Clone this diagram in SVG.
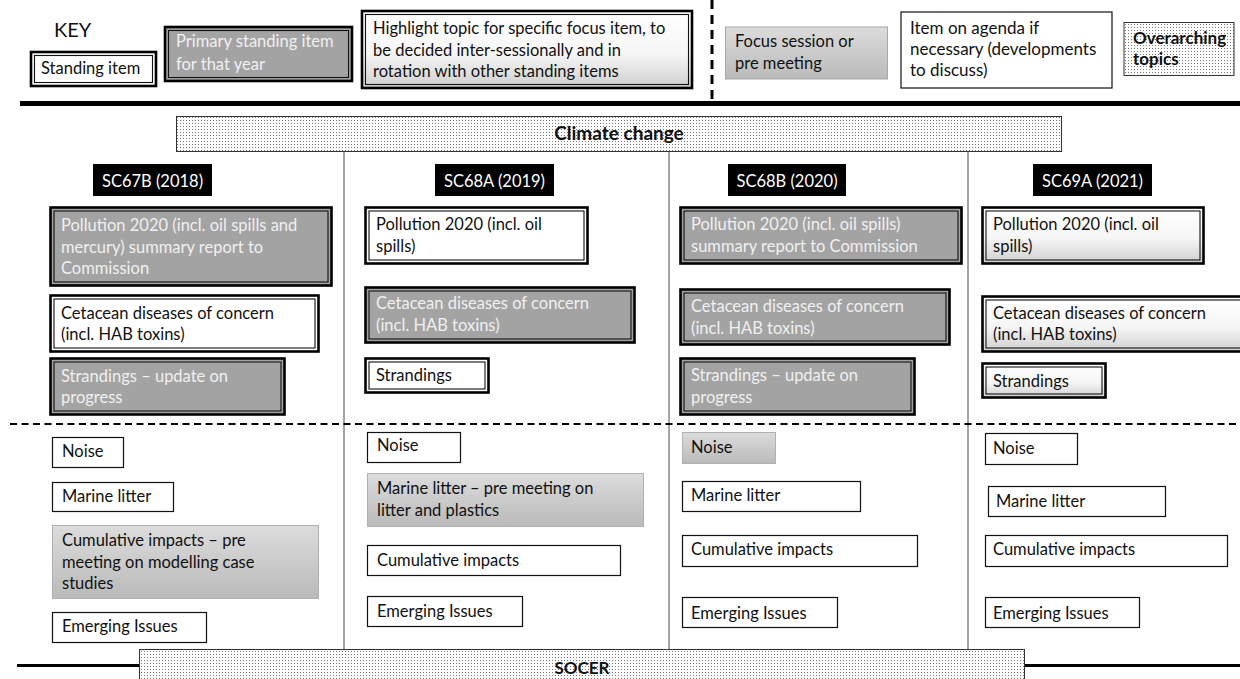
<svg xmlns="http://www.w3.org/2000/svg" width="1240" height="679" viewBox="0 0 1240 679">
<style>
text{font-family:Lato,"Liberation Sans",sans-serif;font-size:16.5px;fill:#111}
.lt{fill:#f0f0f0}
.wt{fill:#fff}
.b{font-weight:bold}
.o{stroke:#000;stroke-width:2.6}
.i{fill:none;stroke:#111;stroke-width:1.1}
.thin{stroke:#111;stroke-width:1.2;fill:#fff}
.div{stroke:#7f7f7f;stroke-width:1.4}
</style>
<defs>
<pattern id="dots" width="3" height="3" patternUnits="userSpaceOnUse">
<rect width="3" height="3" fill="#fff"/><rect width="1" height="1" fill="#777"/>
</pattern>
<linearGradient id="hl" x1="0" y1="0" x2="0" y2="1">
<stop offset="0" stop-color="#fff"/><stop offset="0.55" stop-color="#f6f6f6"/><stop offset="1" stop-color="#cfcfcf"/>
</linearGradient>
<linearGradient id="fs" x1="0" y1="0" x2="0" y2="1">
<stop offset="0" stop-color="#dcdcdc"/><stop offset="1" stop-color="#bababa"/>
</linearGradient>
</defs>

<!-- KEY -->
<g id="key">
<text x="54" y="37" style="font-size:20px">KEY</text>
<g id="key-standing">
<rect x="31" y="52" width="125" height="34" fill="#fff" class="o"/>
<rect x="34.5" y="55.5" width="118" height="27" class="i"/>
<text x="41" y="74">Standing item</text>
</g>
<g id="key-primary">
<rect x="165" y="27" width="187" height="54" fill="#a3a3a3" class="o"/>
<rect x="168.5" y="30.5" width="180" height="47" class="i"/>
<text x="176" y="47" class="lt">Primary standing item</text>
<text x="176" y="70" class="lt">for that year</text>
</g>
<g id="key-highlight">
<rect x="362" y="11" width="330" height="77" fill="url(#hl)" class="o"/>
<rect x="365.5" y="14.5" width="323" height="70" class="i"/>
<text x="373" y="34">Highlight topic for specific focus item, to</text>
<text x="373" y="55.5">be decided inter-sessionally and in</text>
<text x="373" y="77">rotation with other standing items</text>
</g>
<g id="key-focus">
<rect x="725.5" y="27" width="162" height="52" fill="url(#fs)" stroke="#a8a8a8" stroke-width="1"/>
<text x="735" y="47">Focus session or</text>
<text x="735" y="68.5">pre meeting</text>
</g>
<g id="key-agenda">
<rect x="901" y="12" width="211" height="76" class="thin"/>
<text x="910" y="33.5" style="font-size:17px">Item on agenda if</text>
<text x="910" y="55" style="font-size:17px">necessary (developments</text>
<text x="910" y="76" style="font-size:17px">to discuss)</text>
</g>
<g id="key-overarching">
<rect x="1124" y="22.5" width="110" height="53" fill="url(#dots)" stroke="#333" stroke-width="1"/>
<text x="1133" y="43.5" class="b" style="font-size:17px">Overarching</text>
<text x="1133" y="65" class="b" style="font-size:17px">topics</text>
</g>
</g>

<!-- structural lines -->
<g id="lines">
<line x1="712" y1="0" x2="712" y2="106" stroke="#000" stroke-width="3" stroke-dasharray="9,6"/>
<line x1="20" y1="103.5" x2="1240" y2="103.5" stroke="#000" stroke-width="5"/>
<line x1="344" y1="151" x2="344" y2="650" class="div"/>
<line x1="669" y1="151" x2="669" y2="650" class="div"/>
<line x1="968" y1="151" x2="968" y2="650" class="div"/>
<line x1="10" y1="424" x2="1240" y2="424" stroke="#000" stroke-width="2" stroke-dasharray="7,4.5"/>
<line x1="17" y1="665.5" x2="140" y2="665.5" stroke="#000" stroke-width="3"/>
<line x1="1025" y1="665.5" x2="1240" y2="665.5" stroke="#000" stroke-width="3"/>
</g>

<g id="climate">
<rect x="176.5" y="116.5" width="885" height="35" fill="url(#dots)" stroke="#333" stroke-width="1"/>
<text x="619" y="140" class="b" text-anchor="middle" style="font-size:19px">Climate change</text>
</g>
<g id="socer">
<rect x="139.5" y="649.5" width="885" height="40" fill="url(#dots)" stroke="#333" stroke-width="1"/>
<text x="582" y="673.5" class="b" text-anchor="middle" style="font-size:17px">SOCER</text>
</g>

<!-- Column headers -->
<g id="h1"><rect x="93" y="164" width="119" height="32" fill="#000"/><text x="152.5" y="187" class="wt" text-anchor="middle">SC67B (2018)</text></g>
<g id="h2"><rect x="435" y="164" width="119" height="32" fill="#000"/><text x="494.5" y="187" class="wt" text-anchor="middle">SC68A (2019)</text></g>
<g id="h3"><rect x="728" y="164" width="118" height="32" fill="#000"/><text x="787" y="187" class="wt" text-anchor="middle">SC68B (2020)</text></g>
<g id="h4"><rect x="1033" y="164" width="119" height="32" fill="#000"/><text x="1092.5" y="187" class="wt" text-anchor="middle">SC69A (2021)</text></g>

<!-- Column 1 -->
<g id="c1-pollution">
<rect x="50.5" y="207.5" width="281" height="78" fill="#a3a3a3" class="o"/>
<rect x="54" y="211" width="274" height="71" class="i"/>
<text x="61" y="231" class="lt">Pollution 2020 (incl. oil spills and</text>
<text x="61" y="253" class="lt">mercury) summary report  to</text>
<text x="61" y="274" class="lt">Commission</text>
</g>
<g id="c1-cetacean">
<rect x="50.5" y="295.5" width="268" height="56" fill="#fff" class="o"/>
<rect x="54" y="299" width="261" height="49" class="i"/>
<text x="61" y="318.5">Cetacean diseases of concern</text>
<text x="61" y="340">(incl. HAB toxins)</text>
</g>
<g id="c1-strandings">
<rect x="50.5" y="358.5" width="234" height="56" fill="#a3a3a3" class="o"/>
<rect x="54" y="362" width="227" height="49" class="i"/>
<text x="61" y="381.5" class="lt">Strandings – update on</text>
<text x="61" y="403" class="lt">progress</text>
</g>

<!-- Column 2 -->
<g id="c2-pollution">
<rect x="365.5" y="207.5" width="222" height="56" fill="#fff" class="o"/>
<rect x="369" y="211" width="215" height="49" class="i"/>
<text x="376" y="230">Pollution 2020 (incl. oil</text>
<text x="376" y="251.5">spills)</text>
</g>
<g id="c2-cetacean">
<rect x="365.5" y="287.5" width="269" height="55" fill="#a3a3a3" class="o"/>
<rect x="369" y="291" width="262" height="48" class="i"/>
<text x="376" y="309" class="lt">Cetacean diseases of concern</text>
<text x="376" y="331" class="lt">(incl. HAB toxins)</text>
</g>
<g id="c2-strandings">
<rect x="365.5" y="358.5" width="123" height="34" fill="#fff" class="o"/>
<rect x="369" y="362" width="116" height="27" class="i"/>
<text x="376" y="381">Strandings</text>
</g>

<!-- Column 3 -->
<g id="c3-pollution">
<rect x="680.5" y="207.5" width="281" height="56" fill="#a3a3a3" class="o"/>
<rect x="684" y="211" width="274" height="49" class="i"/>
<text x="691" y="230" class="lt">Pollution 2020 (incl. oil spills)</text>
<text x="691" y="251.5" class="lt">summary report  to Commission</text>
</g>
<g id="c3-cetacean">
<rect x="680.5" y="289.5" width="269" height="55" fill="#a3a3a3" class="o"/>
<rect x="684" y="293" width="262" height="48" class="i"/>
<text x="691" y="311.5" class="lt">Cetacean diseases of concern</text>
<text x="691" y="333.5" class="lt">(incl. HAB toxins)</text>
</g>
<g id="c3-strandings">
<rect x="680.5" y="358.5" width="234" height="56" fill="#a3a3a3" class="o"/>
<rect x="684" y="362" width="227" height="49" class="i"/>
<text x="691" y="381" class="lt">Strandings – update on</text>
<text x="691" y="403" class="lt">progress</text>
</g>

<!-- Column 4 -->
<g id="c4-pollution">
<rect x="982.5" y="207.5" width="221" height="56" fill="url(#hl)" class="o"/>
<rect x="986" y="211" width="214" height="49" class="i"/>
<text x="993" y="230">Pollution 2020 (incl. oil</text>
<text x="993" y="251.5">spills)</text>
</g>
<g id="c4-cetacean">
<rect x="982.5" y="296.5" width="270" height="55" fill="url(#hl)" class="o"/>
<rect x="986" y="300" width="263" height="48" class="i"/>
<text x="993" y="318.5">Cetacean diseases of concern</text>
<text x="993" y="340">(incl. HAB toxins)</text>
</g>
<g id="c4-strandings">
<rect x="982.5" y="363.5" width="123" height="34" fill="url(#hl)" class="o"/>
<rect x="986" y="367" width="116" height="27" class="i"/>
<text x="993" y="386.5">Strandings</text>
</g>

<!-- Bottom section col 1 -->
<g id="c1-noise"><rect x="52.5" y="437.5" width="71" height="30" class="thin"/><text x="62" y="456.5">Noise</text></g>
<g id="c1-litter"><rect x="52.5" y="482.5" width="121" height="29" class="thin"/><text x="62" y="501.5">Marine litter</text></g>
<g id="c1-cumulative">
<rect x="52.5" y="525.5" width="266" height="73" fill="url(#fs)" stroke="#b0b0b0" stroke-width="1"/>
<text x="62" y="546">Cumulative impacts – pre</text>
<text x="62" y="567.5">meeting on modelling case</text>
<text x="62" y="588.5">studies</text>
</g>
<g id="c1-emerging"><rect x="52.5" y="612.5" width="154" height="30" class="thin"/><text x="62" y="632">Emerging Issues</text></g>

<!-- Bottom col 2 -->
<g id="c2-noise"><rect x="367.5" y="432.5" width="93" height="30" class="thin"/><text x="377" y="451">Noise</text></g>
<g id="c2-litter">
<rect x="367.5" y="473.5" width="276" height="53" fill="url(#fs)" stroke="#b0b0b0" stroke-width="1"/>
<text x="377" y="494">Marine litter – pre meeting on</text>
<text x="377" y="515.5">litter and plastics</text>
</g>
<g id="c2-cumulative"><rect x="367.5" y="545.5" width="253" height="30" class="thin"/><text x="377" y="565.5">Cumulative impacts</text></g>
<g id="c2-emerging"><rect x="367.5" y="596.5" width="155" height="30" class="thin"/><text x="377" y="617">Emerging Issues</text></g>

<!-- Bottom col 3 -->
<g id="c3-noise"><rect x="682.5" y="432.5" width="93" height="31" fill="url(#fs)" stroke="#b0b0b0" stroke-width="1"/><text x="691" y="452.5">Noise</text></g>
<g id="c3-litter"><rect x="682.5" y="481.5" width="178" height="30" class="thin"/><text x="691" y="501">Marine litter</text></g>
<g id="c3-cumulative"><rect x="682.5" y="535.5" width="235" height="31" class="thin"/><text x="691" y="555">Cumulative impacts</text></g>
<g id="c3-emerging"><rect x="682.5" y="597.5" width="155" height="30" class="thin"/><text x="691" y="618.5">Emerging Issues</text></g>

<!-- Bottom col 4 -->
<g id="c4-noise"><rect x="985.5" y="433.5" width="92" height="31" class="thin"/><text x="993" y="453.5">Noise</text></g>
<g id="c4-litter"><rect x="988.5" y="486.5" width="177" height="30" class="thin"/><text x="996" y="507">Marine litter</text></g>
<g id="c4-cumulative"><rect x="985.5" y="535.5" width="242" height="31" class="thin"/><text x="993" y="555">Cumulative impacts</text></g>
<g id="c4-emerging"><rect x="985.5" y="597.5" width="154" height="30" class="thin"/><text x="993" y="618.5">Emerging Issues</text></g>
</svg>
